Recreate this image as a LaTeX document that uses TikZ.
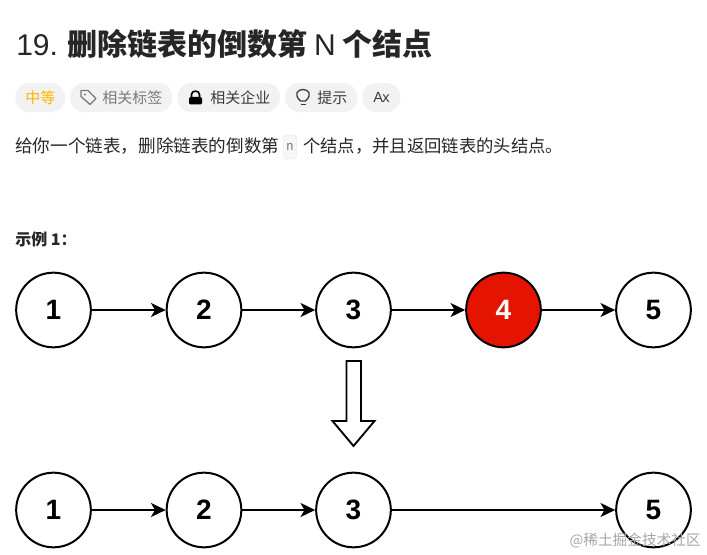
\documentclass[tikz,border=0pt]{standalone}
\usepackage{fontspec}
\setmainfont{Noto Sans CJK SC}
\newfontfamily\digitfont{Liberation Sans}
\setmonofont{DejaVu Sans Mono}
\usetikzlibrary{arrows.meta}
\definecolor{titlegray}{HTML}{262626}
\definecolor{pillgray}{HTML}{F2F2F2}
\definecolor{taggray}{HTML}{7A7A7A}
\definecolor{darkgray}{HTML}{3C3C3C}
\definecolor{easyorange}{HTML}{FFB800}
\definecolor{listred}{HTML}{E51400}
\tikzset{
    listnode/.style={circle,draw,line width=1.5pt,minimum size=56pt,inner sep=0pt,font=\digitfont\fontsize{21}{21}\selectfont\bfseries},
    listlink/.style={line width=1.4pt,-{Stealth[length=11pt,width=10.5pt,inset=3pt]}},
    pill/.style={rounded corners=10.5pt,fill=pillgray,draw=none,minimum height=22pt,inner sep=0pt,anchor=west},
    plaintext/.style={inner sep=0pt,anchor=west,text=titlegray}
}

\begin{document}
\begin{tikzpicture}[x=0.75pt,y=-0.75pt]
            \useasboundingbox (0,0) rectangle (707,555);

            % heading
            \node[plaintext,font=\fontsize{22.5}{24}\selectfont\bfseries] (title) at (16,44) {{\digitfont\mdseries 19.} 删除链表的倒数第 {\digitfont\mdseries N} 个结点};

            % tag row
            \node[pill,minimum width=37.5pt] (easy) at (15,97.5) {};
            \node[pill,minimum width=76.5pt] (tags) at (70,97.5) {};
            \node[pill,minimum width=77pt] (firms) at (177,97.5) {};
            \node[pill,minimum width=54pt] (hint) at (285,97.5) {};
            \node[pill,minimum width=28.5pt] (lang) at (362,97.5) {};
            \node[plaintext,text=easyorange,font=\fontsize{11.25}{12}\selectfont] (easytext) at (25,97.5) {中等};
            \node[plaintext,text=taggray,font=\fontsize{11.25}{12}\selectfont] (tagstext) at (102,97.5) {相关标签};
            \node[plaintext,text=darkgray,font=\fontsize{11.25}{12}\selectfont] (firmstext) at (210,97.5) {相关企业};
            \node[plaintext,text=darkgray,font=\fontsize{11.25}{12}\selectfont] (hinttext) at (317,97.5) {提示};
            \node[plaintext,text=darkgray,font=\digitfont\fontsize{11}{11}\selectfont] (langtext) at (373,97) {A\kern-0.5pt x};

            % icons
            \draw[taggray,line width=1pt,line join=round] (81,90.5) -- (88,90.5) -- (96,98.5) -- (90,104.5) -- (81,96.5) -- cycle;
            \fill[taggray] (85,94.5) circle (1.2);
            \fill[black,rounded corners=1pt] (189,97) rectangle (202,104.5);
            \draw[black,line width=1.2pt] (191.5,97) -- (191.5,94.5) .. controls (191.5,90) and (199.5,90) .. (199.5,94.5) -- (199.5,97);
            \draw[darkgray,line width=1pt] (300.5,101) .. controls (293,94) and (298,89.5) .. (303,89.5) .. controls (308,89.5) and (313,94) .. (305.5,101) -- cycle;
            \draw[darkgray,line width=1.2pt] (300.5,104.5) -- (305.5,104.5);

            % question text
            \node[plaintext,font=\fontsize{13.2}{14}\selectfont] (asktext) at (15,146) {给你一个链表，删除链表的倒数第};
            \node[inner sep=0pt,anchor=center,minimum width=10pt,minimum height=18pt,rounded corners=2.5pt,fill=black!3,draw=black!8,text=taggray,font=\ttfamily\fontsize{9.5}{10}\selectfont] (nbox) at (290,147) {n};
            \node[plaintext,font=\fontsize{13}{14}\selectfont] (asktail) at (303,146) {个结点，并且返回链表的头结点。};

            \node[plaintext,font=\fontsize{12}{14}\selectfont\bfseries] (sample) at (15,239) {示例 1：};

            % top list
            \node[listnode] (A) at (53.5,310) {1};
            \node[listnode] (B) at (204,310) {2};
            \node[listnode] (C) at (353.5,310) {3};
            \node[listnode,fill=listred,text=white] (D) at (503.5,310) {4};
            \node[listnode] (E) at (653.5,310) {5};

            \draw[listlink] (A) -- (B);
            \draw[listlink] (B) -- (C);
            \draw[listlink] (C) -- (D);
            \draw[listlink] (D) -- (E);

            % hollow arrow
            \draw[line width=1.4pt,line join=miter] (346.5,361) -- (361,361) -- (361,421) -- (374.5,421) -- (353.5,446) -- (332.5,421) -- (346.5,421) -- cycle;

            % bottom list
            \node[listnode] (F) at (53.5,510) {1};
            \node[listnode] (G) at (204,510) {2};
            \node[listnode] (H) at (353.5,510) {3};
            \node[listnode] (J) at (653.5,510) {5};

            \draw[listlink] (F) -- (G);
            \draw[listlink] (G) -- (H);
            \draw[listlink] (H) -- (J);

            % watermark
            \node[inner sep=0pt,anchor=east,text=black!35,font=\fontsize{11}{12}\selectfont] (mark) at (701,541) {@稀土掘金技术社区};
        \end{tikzpicture}
\end{document}
